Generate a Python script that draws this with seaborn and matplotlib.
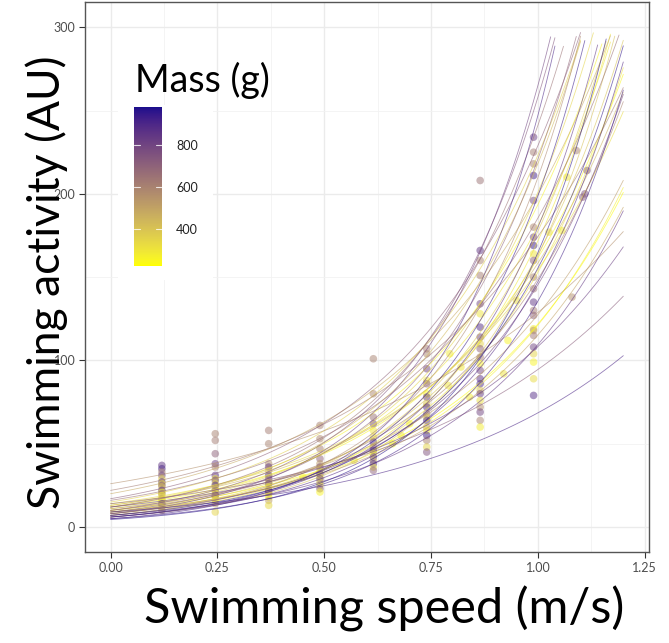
import numpy as np
import pandas as pd
import matplotlib
matplotlib.use("Agg")
import matplotlib.pyplot as plt
import seaborn as sns
from matplotlib.colors import ListedColormap, Normalize
from matplotlib.cm import ScalarMappable

# ---------------- data ----------------
# per-fish exponential fits: activity = a * exp(b * speed)
fish_mass = [900, 720, 560, 620, 480, 700, 850, 900, 800, 650,
             350, 300, 250, 400, 950, 880, 780, 600, 450, 330,
             270, 920, 840, 520, 380, 290, 960, 690, 580, 430,
             740, 360, 310, 230, 820, 500, 660, 260, 940, 410]
fish_a = [9, 14, 26, 22, 20, 17, 6, 5, 8, 12,
          10, 11, 12, 9, 7, 6, 8, 10, 13, 14,
          9, 5, 7, 11, 8, 7, 4.5, 9, 7, 12,
          10, 15, 8, 10, 12, 9, 16, 13, 6, 6]
fish_b = [2.03, 1.91, 1.60, 2.07, 2.30, 2.60, 3.40, 3.90, 3.50, 3.00,
          3.00, 2.80, 2.60, 2.90, 3.10, 3.20, 2.90, 2.70, 2.50, 2.40,
          2.60, 3.30, 2.75, 2.45, 3.10, 3.20, 3.60, 3.20, 3.40, 2.90,
          3.25, 2.70, 2.95, 2.50, 2.20, 2.55, 2.45, 2.70, 3.50, 3.30]

# observed points (speed m/s, activity AU, mass g)
point_speed = (
    [0.12] * 18 + [0.245] * 18 + [0.37] * 16 + [0.49] * 14 + [0.615] * 15 +
    [0.74] * 18 + [0.865] * 22 + [0.99] * 23 +
    [1.09, 1.115, 1.068, 1.11, 1.105, 1.056, 1.026, 1.08] +
    [0.794, 0.79, 0.70, 0.68, 0.84, 0.92, 0.93, 0.95, 0.66, 0.82, 0.57, 0.45]
)
point_activity = (
    [37, 35, 33, 31, 29, 27, 26, 25, 24, 22, 21, 20, 19, 17, 16, 14, 12, 10] +
    [56, 52, 44, 38, 36, 31, 29, 28, 26, 25, 23, 22, 20, 19, 18, 16, 14, 9] +
    [58, 50, 38, 36, 34, 31, 29, 27, 26, 24, 22, 21, 20, 18, 16, 13] +
    [61, 53, 47, 41, 38, 36, 34, 32, 30, 29, 27, 25, 23, 21] +
    [101, 80, 66, 62, 58, 54, 51, 48, 46, 44, 42, 40, 38, 36, 34] +
    [107, 104, 95, 88, 86, 80, 78, 74, 72, 68, 66, 64, 60, 58, 55, 52, 48, 45] +
    [208, 166, 160, 151, 134, 128, 120, 114, 110, 107, 102, 98, 94, 89, 86, 82,
     80, 76, 72, 69, 64, 60] +
    [234, 225, 218, 211, 196, 180, 174, 169, 164, 160, 150, 143, 135, 130, 127,
     119, 118, 115, 108, 104, 99, 89, 79] +
    [226, 214, 210, 200, 198, 178, 177, 138] +
    [104, 85, 62, 55, 78, 92, 112, 136, 50, 96, 40, 30]
)
point_mass = (
    [850, 900, 600, 820, 350, 880, 300, 780, 400, 900, 250, 650, 300, 550, 280, 920, 380, 600] +
    [600, 620, 700, 820, 580, 860, 300, 800, 350, 900, 280, 750, 320, 880, 450, 260, 500, 350] +
    [620, 600, 560, 850, 480, 900, 800, 300, 880, 280, 900, 700, 350, 250, 500, 330] +
    [600, 580, 620, 700, 520, 800, 300, 900, 280, 850, 400, 330, 750, 260] +
    [600, 580, 650, 820, 300, 350, 880, 600, 920, 280, 850, 450, 900, 320, 700] +
    [620, 580, 800, 300, 700, 260, 860, 400, 900, 650, 330, 880, 500, 280, 920, 600, 350, 750] +
    [650, 850, 600, 620, 800, 300, 880, 820, 350, 700, 600, 260, 780, 860, 900, 400,
     840, 320, 560, 800, 600, 280] +
    [820, 620, 600, 920, 780, 580, 800, 940, 300, 700, 600, 650, 850, 620, 700,
     280, 560, 640, 800, 350, 260, 330, 880] +
    [600, 780, 300, 760, 720, 280, 330, 560] +
    [280, 300, 260, 300, 280, 300, 260, 320, 270, 290, 300, 260]
)

x_ticks = [0.00, 0.25, 0.50, 0.75, 1.00, 1.25]
y_ticks = [0, 100, 200, 300]
cbar_ticks = [400, 600, 800]
mass_range = (225, 980)

# ---------------- colour scale (Lab interpolation yellow -> dark blue) ----------------
def _srgb_to_lab(rgb):
    rgb = np.asarray(rgb, float)
    lin = np.where(rgb <= 0.04045, rgb / 12.92, ((rgb + 0.055) / 1.055) ** 2.4)
    M = np.array([[0.4124, 0.3576, 0.1805],
                  [0.2126, 0.7152, 0.0722],
                  [0.0193, 0.1192, 0.9505]])
    xyz = M @ lin / np.array([0.95047, 1.0, 1.08883])
    f = np.where(xyz > 0.008856, np.cbrt(xyz), 7.787 * xyz + 16 / 116)
    return np.array([116 * f[1] - 16, 500 * (f[0] - f[1]), 200 * (f[1] - f[2])])

def _lab_to_srgb(lab):
    L, a, b = lab
    fy = (L + 16) / 116
    fx = fy + a / 500
    fz = fy - b / 200
    f = np.array([fx, fy, fz])
    xyz = np.where(f ** 3 > 0.008856, f ** 3, (f - 16 / 116) / 7.787)
    xyz = xyz * np.array([0.95047, 1.0, 1.08883])
    Minv = np.array([[3.2406, -1.5372, -0.4986],
                     [-0.9689, 1.8758, 0.0415],
                     [0.0557, -0.2040, 1.0570]])
    lin = Minv @ xyz
    lin = np.clip(lin, 0, 1)
    rgb = np.where(lin <= 0.0031308, 12.92 * lin, 1.055 * lin ** (1 / 2.4) - 0.055)
    return np.clip(rgb, 0, 1)

low_lab = _srgb_to_lab(matplotlib.colors.to_rgb("#FFFF00"))
high_lab = _srgb_to_lab(matplotlib.colors.to_rgb("#1A0E8C"))
cmap = ListedColormap([_lab_to_srgb(low_lab + t * (high_lab - low_lab))
                       for t in np.linspace(0, 1, 256)])
norm = Normalize(*mass_range)

# ---------------- frames ----------------
pts = pd.DataFrame({"speed": point_speed, "activity": point_activity, "mass": point_mass})

xgrid = np.linspace(0, 1.2, 121)
rows = []
for i, (m, a, b) in enumerate(zip(fish_mass, fish_a, fish_b)):
    y = a * np.exp(b * xgrid)
    keep = y <= 297
    for xv, yv in zip(xgrid[keep], y[keep]):
        rows.append((i, m, xv, yv))
curves = pd.DataFrame(rows, columns=["fish", "mass", "speed", "activity"])

# ---------------- figure ----------------
sns.set_theme(style="whitegrid")
plt.rcParams["font.family"] = ["Lato", "DejaVu Sans"]

fig = plt.figure(figsize=(6.69, 6.43), dpi=100)
ax = fig.add_axes([0.127, 0.1415, 0.843, 0.855])

sns.scatterplot(data=pts, x="speed", y="activity", hue="mass", palette=cmap,
                hue_norm=norm, s=30, alpha=0.5, linewidth=0, legend=False, ax=ax, zorder=2)
sns.lineplot(data=curves, x="speed", y="activity", hue="mass", units="fish",
             estimator=None, palette=cmap, hue_norm=norm, lw=0.6, alpha=0.6,
             legend=False, ax=ax, zorder=3)

ax.set_xlim(-0.06, 1.26)
ax.set_ylim(-15, 315)
ax.set_xticks(x_ticks)
ax.set_xticklabels([f"{v:.2f}" for v in x_ticks])
ax.set_yticks(y_ticks)
ax.set_xticks([0.125, 0.375, 0.625, 0.875, 1.125], minor=True)
ax.set_yticks([50, 150, 250], minor=True)
ax.grid(True, which="major", color="#EBEBEB", lw=1.0)
ax.grid(True, which="minor", color="#F2F2F2", lw=0.6)
ax.set_axisbelow(True)
ax.tick_params(axis="both", which="major", labelsize=9, labelcolor="#4D4D4D",
               color="#333333", length=4, width=0.8, direction="out",
               bottom=True, left=True, pad=3)
ax.tick_params(axis="both", which="minor", length=0)
for sp in ax.spines.values():
    sp.set_color("#555555")
    sp.set_linewidth(1.0)
    sp.set_visible(True)

ax.set_xlabel("Swimming speed (m/s)", fontsize=35, color="black")
ax.xaxis.set_label_coords(0.530, -0.062)
ax.set_ylabel("Swimming activity (AU)", fontsize=32, color="black")
ax.yaxis.set_label_coords(-0.03, 0.49)

# legend background box
ax.add_patch(plt.Rectangle((118 / 669, 1 - 280 / 643), 95 / 669, 175 / 643,
                           transform=fig.transFigure, facecolor="white",
                           edgecolor="none", zorder=4))
cax = fig.add_axes([134 / 669, 1 - 266 / 643, 28 / 669, 159 / 643])
cb = fig.colorbar(ScalarMappable(norm=norm, cmap=cmap), cax=cax, ticks=cbar_ticks)
cb.outline.set_visible(False)
cax.tick_params(axis="y", length=0, labelsize=9, labelcolor="#222222", pad=10)
for t in cbar_ticks:
    cax.plot([0, 0.2], [t, t], color="white", lw=0.8, alpha=0.8)
    cax.plot([0.8, 1.0], [t, t], color="white", lw=0.8, alpha=0.8)
fig.text(135 / 669, 1 - 80 / 643, "Mass (g)", fontsize=27, va="center", ha="left",
         color="black")

fig.savefig("out.png", dpi=100)
